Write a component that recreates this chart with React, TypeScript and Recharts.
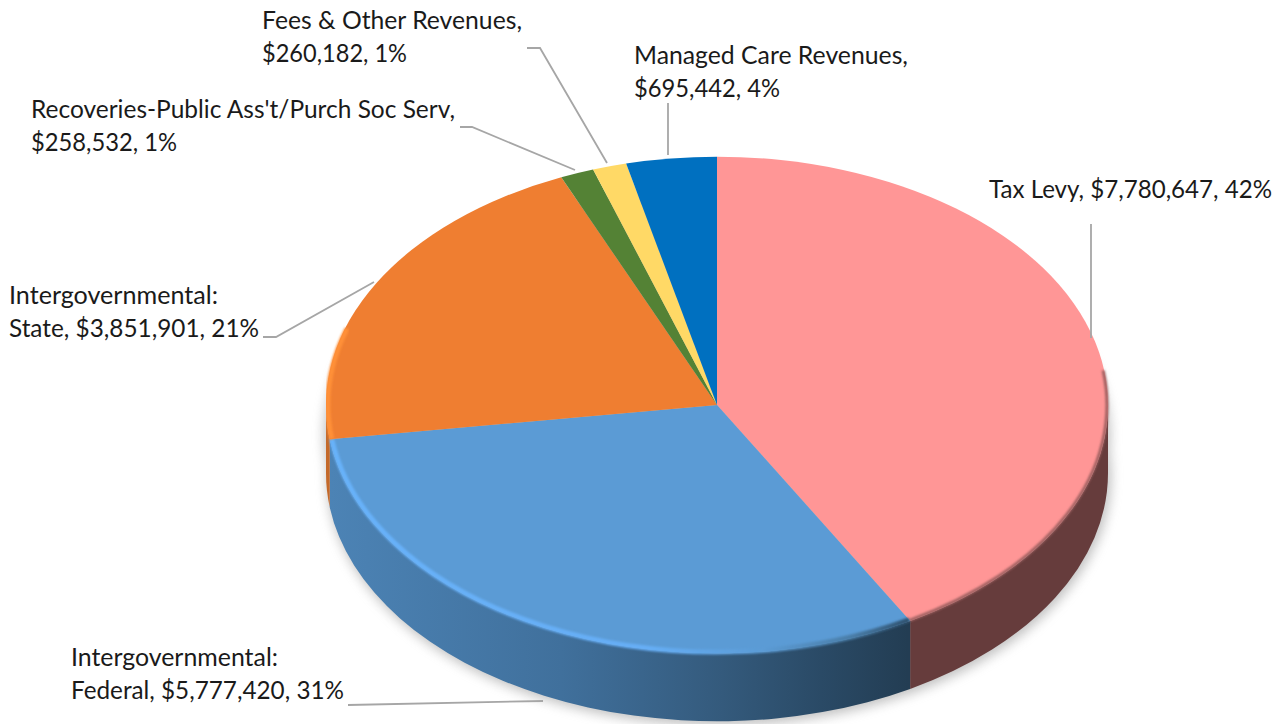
import React from "react";
import { Pie, PieChart } from "recharts";

const categories = [
  "Tax Levy",
  "Intergovernmental:\nFederal",
  "Intergovernmental:\nState",
  "Recoveries-Public Ass't/Purch Soc Serv",
  "Fees & Other Revenues",
  "Managed Care Revenues",
];
const values = [7780647, 5777420, 3851901, 258532, 260182, 695442];
const separators = [", ", ", ", ", ", ",\n", ",\n", ",\n"];
const colors = ["#ff9696", "#5b9bd5", "#ef7e31", "#548235", "#ffd966", "#0070c0"];
const wallColors = ["#663c3c", "url(#federalWall)", "#c4692a", "#3f6228", "#bfa24c", "#005490"];

const labelPos = [
  { x: 989, y: 198, widths: [283], leader: "1091,224 1091,338" },
  { x: 71, y: 666, widths: [207, 273], leader: "348,705 543,701" },
  { x: 9, y: 304, widths: [209, 250], leader: "263,337 276,337 374,282" },
  { x: 31, y: 118, widths: [424, 146], leader: "460,127 472,127 575,170" },
  { x: 262, y: 29, widths: [260, 145], leader: "527,48 540,48 607,163" },
  { x: 634, y: 64, widths: [274, 146], leader: "668,103 668,155" },
];

const total = values.reduce((acc, val) => acc + val, 0);
const data = categories.map((name, i) => ({ name, value: values[i], fill: colors[i] }));
const wallData = categories.map((name, i) => ({ name, value: values[i], fill: wallColors[i] }));

const SQUASH = 0.635;
const DEPTH = 68;
const RAD = Math.PI / 180;

const pt = (cx: number, cy: number, r: number, deg: number, dy = 0) =>
  `${cx + r * Math.cos(deg * RAD)} ${cy - r * SQUASH * Math.sin(deg * RAD) + dy}`;

const arc = (r: number, from: number, to: number, sweep: number) => {
  const large = Math.abs(from - to) > 180 ? 1 : 0;
  return `${r} ${r * SQUASH} 0 ${large} ${sweep}`;
};

// face of one slice, squashed to an ellipse
const Face = (props: any) => {
  const { cx, cy, outerRadius: r, startAngle: a, endAngle: b, fill, index } = props;
  const d = `M${cx} ${cy} L${pt(cx, cy, r, a)} A${arc(r, a, b, 1)} ${pt(cx, cy, r, b)} Z`;
  let rim = null;
  if (index === 0 || index === 1 || index === 2) {
    const s = index === 0 ? Math.min(a, 8) : Math.min(a, 0);
    const e = index === 2 ? Math.max(b, -198) : b;
    const rr = index === 0 ? r - 1 : r - 2;
    const stroke = index === 0 ? "#9c5f5f" : index === 1 ? "url(#federalRim)" : "#ff9038";
    rim = (
      <path
        d={`M${pt(cx, cy, rr, s)} A${arc(rr, s, e, 1)} ${pt(cx, cy, rr, e)}`}
        fill="none"
        stroke={stroke}
        strokeWidth={index === 0 ? 3 : 5}
        filter="url(#soft)"
      />
    );
  }
  return (
    <g>
      <path d={d} fill={fill} stroke="none" />
      {rim}
    </g>
  );
};

// front wall of one slice, only the part facing the viewer
const Wall = (props: any) => {
  const { cx, cy, outerRadius: r, startAngle: a, endAngle: b, fill } = props;
  const s = Math.min(a, 0);
  const e = Math.max(b, -180);
  if (s <= e) return <g />;
  const d =
    `M${pt(cx, cy, r, s)} A${arc(r, s, e, 1)} ${pt(cx, cy, r, e)} ` +
    `L${pt(cx, cy, r, e, DEPTH)} A${arc(r, s, e, 0)} ${pt(cx, cy, r, s, DEPTH)} Z`;
  return <path d={d} fill={fill} stroke="none" />;
};

const Shadow = (props: any) => {
  const { cx, cy, outerRadius: r } = props;
  return (
    <g filter="url(#shadowBlur)" fill="#8c8c8c" opacity={0.55}>
      <ellipse cx={cx + 2} cy={cy + DEPTH + 3} rx={r + 1} ry={r * SQUASH + 1} />
      <ellipse cx={cx} cy={cy + 30} rx={r + 2} ry={r * SQUASH} />
    </g>
  );
};

const renderLabel = (props: any) => {
  const i = props.index;
  const pct = Math.round((values[i] / total) * 100);
  const text = `${categories[i]}${separators[i]}$${values[i].toLocaleString("en-US")}, ${pct}%`;
  const pos = labelPos[i];
  return (
    <g key={i}>
      <polyline points={pos.leader} fill="none" stroke="#a6a6a6" strokeWidth={1.8} />
      {text.split("\n").map((line, n) => (
        <text
          key={n}
          x={pos.x}
          y={pos.y + n * 33}
          fontFamily="Lato"
          fontSize={24.5}
          fill="#1a1a1a"
          textLength={pos.widths[n]}
          lengthAdjust="spacingAndGlyphs"
        >
          {line}
        </text>
      ))}
    </g>
  );
};

export default function App() {
  const common = {
    dataKey: "value",
    cx: 717,
    cy: 405,
    outerRadius: 391,
    startAngle: 90,
    endAngle: -270,
    paddingAngle: 0,
    stroke: "none",
    isAnimationActive: false,
  };
  return (
    <div style={{ position: "absolute", left: 0, top: 0, width: 1282, height: 724, overflow: "hidden" }}>
      <PieChart width={1282} height={724} margin={{ top: 0, right: 0, bottom: 0, left: 0 }}>
        <defs>
          <linearGradient id="federalWall" gradientUnits="userSpaceOnUse" x1={330} y1={0} x2={908} y2={0}>
            <stop offset="0" stopColor="#4c83b5" />
            <stop offset="0.4" stopColor="#40709c" />
            <stop offset="0.68" stopColor="#345a7c" />
            <stop offset="0.85" stopColor="#2a4a66" />
            <stop offset="1" stopColor="#233d53" />
          </linearGradient>
          <linearGradient id="federalRim" gradientUnits="userSpaceOnUse" x1={330} y1={0} x2={908} y2={0}>
            <stop offset="0" stopColor="#68b2fa" />
            <stop offset="0.55" stopColor="#66aef5" />
            <stop offset="0.75" stopColor="#5b9bd5" />
            <stop offset="0.9" stopColor="#4a7ea9" />
            <stop offset="1" stopColor="#2f5270" />
          </linearGradient>
          <filter id="soft" x="-10%" y="-10%" width="120%" height="120%">
            <feGaussianBlur stdDeviation="1.2" />
          </filter>
          <filter id="shadowBlur" x="-10%" y="-10%" width="120%" height="120%">
            <feGaussianBlur stdDeviation="6" />
          </filter>
        </defs>
        <Pie {...common} data={[{ name: "shadow", value: total }]} shape={Shadow} />
        <Pie {...common} data={wallData} shape={Wall} />
        <Pie {...common} data={data} shape={Face} label={renderLabel} labelLine={false} />
      </PieChart>
    </div>
  );
}
